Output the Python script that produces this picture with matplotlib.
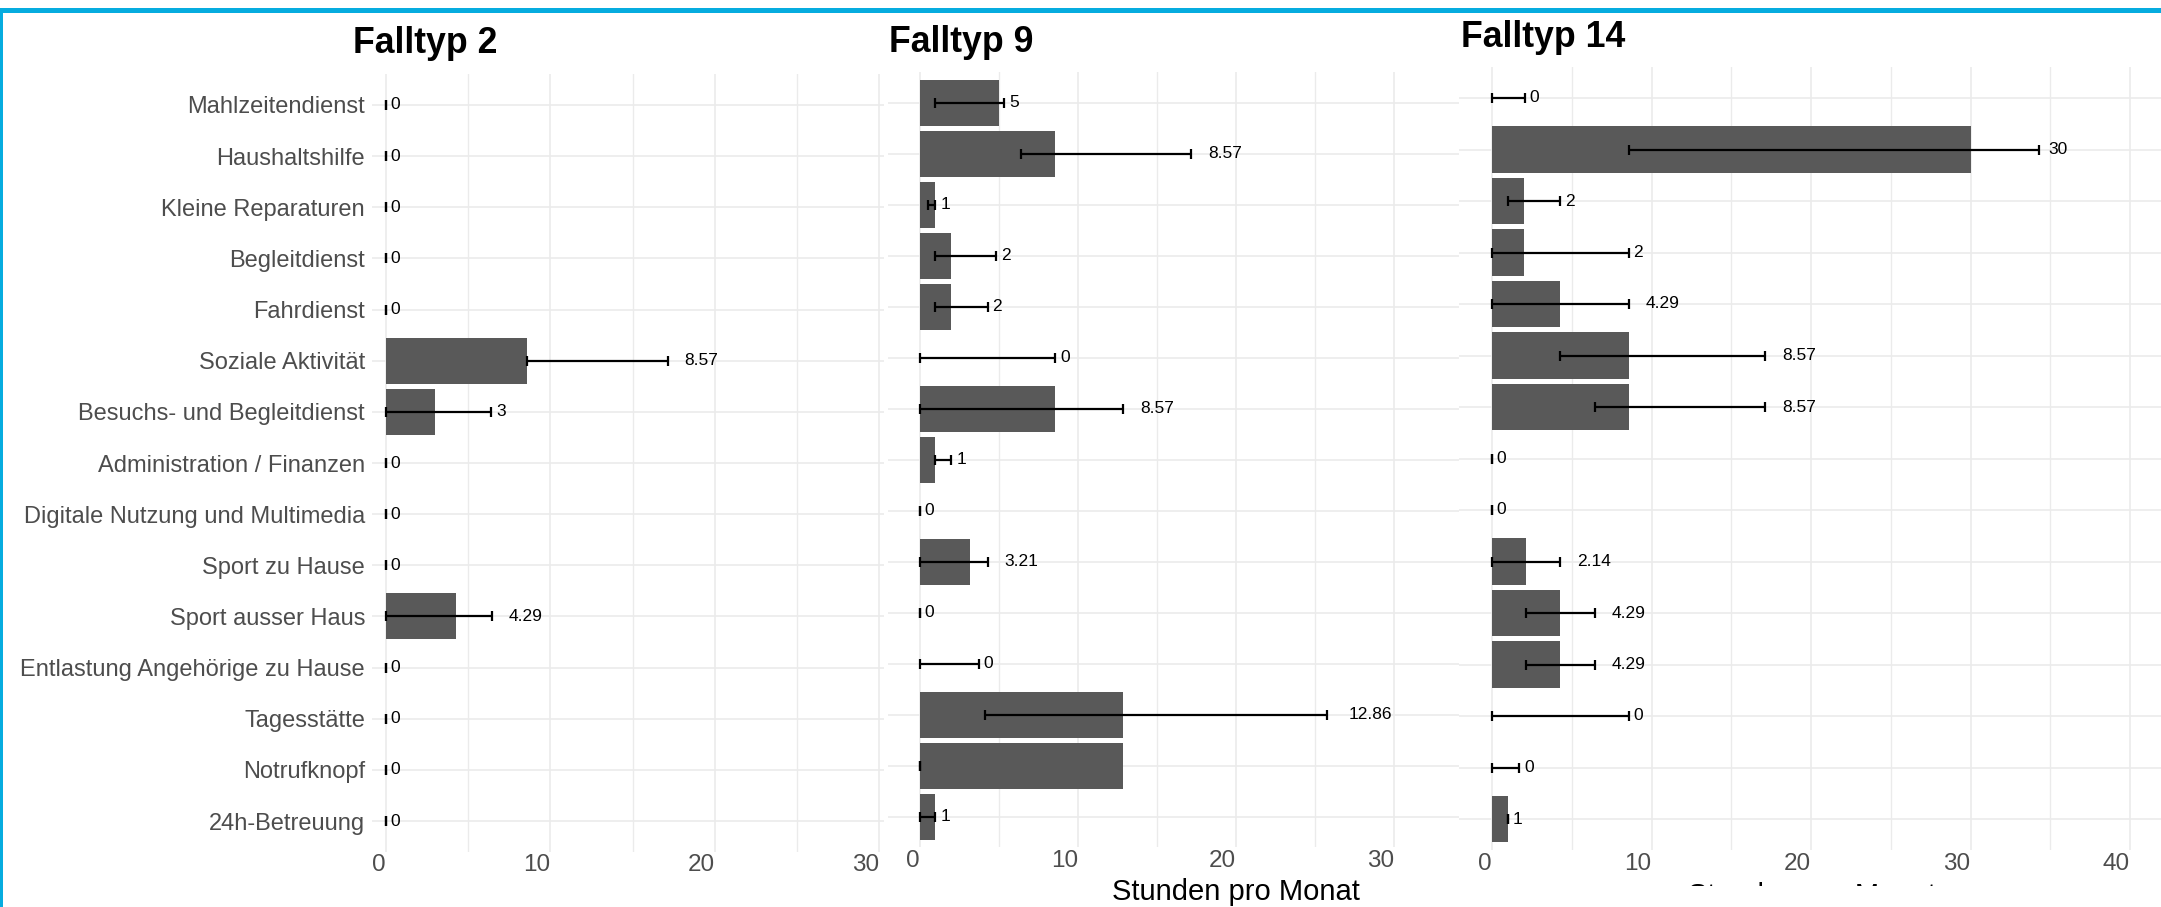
import matplotlib
matplotlib.use("Agg")
import matplotlib.pyplot as plt
from matplotlib.patches import Rectangle
import numpy as np

plt.rcParams['font.family'] = ['Liberation Sans', 'DejaVu Sans']

# Leistungen (von oben nach unten)
categories = ["Mahlzeitendienst", "Haushaltshilfe", "Kleine Reparaturen", "Begleitdienst",
              "Fahrdienst", "Soziale Aktivität", "Besuchs- und Begleitdienst",
              "Administration / Finanzen", "Digitale Nutzung und Multimedia",
              "Sport zu Hause", "Sport ausser Haus", "Entlastung Angehörige zu Hause",
              "Tagesstätte", "Notrufknopf", "24h-Betreuung"]

# Falltyp 2
ft2_val = [0, 0, 0, 0, 0, 8.57, 3, 0, 0, 0, 4.29, 0, 0, 0, 0]
ft2_lo = [0, 0, 0, 0, 0, 8.57, 0, 0, 0, 0, 0, 0, 0, 0, 0]
ft2_hi = [0, 0, 0, 0, 0, 17.14, 6.4, 0, 0, 0, 6.43, 0, 0, 0, 0]
ft2_lab = ["0", "0", "0", "0", "0", "8.57", "3", "0", "0", "0", "4.29", "0", "0", "0", "0"]

# Falltyp 9
ft9_val = [5, 8.57, 1, 2, 2, 0, 8.57, 1, 0, 3.21, 0, 0, 12.86, 12.86, 1]
ft9_lo = [1, 6.43, 0.5, 1, 1, 0, 0, 1, 0, 0, 0, 0, 4.1, 0, 0]
ft9_hi = [5.36, 17.14, 1, 4.82, 4.29, 8.57, 12.86, 2, 0, 4.29, 0, 3.75, 25.71, 0, 1]
ft9_lab = ["5", "8.57", "1", "2", "2", "0", "8.57", "1", "0", "3.21", "0", "0", "12.86", "", "1"]

# Falltyp 14
ft14_val = [0, 30, 2, 2, 4.29, 8.57, 8.57, 0, 0, 2.14, 4.29, 4.29, 0, 0, 1]
ft14_lo = [0, 8.57, 1, 0, 0, 4.29, 6.43, 0, 0, 0, 2.14, 2.14, 0, 0, 1]
ft14_hi = [2.05, 34.29, 4.29, 8.57, 8.57, 17.14, 17.14, 0, 0, 4.29, 6.43, 6.43, 8.57, 1.7, 1]
ft14_lab = ["0", "30", "2", "2", "4.29", "8.57", "8.57", "0", "0", "2.14", "4.29", "4.29", "0", "0", "1"]

W, H = 2161, 907
fig = plt.figure(figsize=(W / 100, H / 100), dpi=100)

def rect_px(l, r, t, b):
    return [l / W, 1 - b / H, (r - l) / W, (b - t) / H]

panels = [
    # title, values, lo, hi, labels, xlim, xticks, axes box (px), title pos (px)
    ("Falltyp 2", ft2_val, ft2_lo, ft2_hi, ft2_lab, (-0.85, 30.3), [0, 10, 20, 30],
     rect_px(372, 884, 74.3, 851.7), (353, 53)),
    ("Falltyp 9", ft9_val, ft9_lo, ft9_hi, ft9_lab, (-2.0, 34.05), [0, 10, 20, 30],
     rect_px(888, 1458.6, 72.1, 847.3), (889, 52)),
    ("Falltyp 14", ft14_val, ft14_lo, ft14_hi, ft14_lab, (-2.07, 41.94), [0, 10, 20, 30, 40],
     rect_px(1459, 2161, 67.1, 849.9), (1461, 47)),
]

grid_col = '#EBEBEB'
lab_fs = 12.5

for i, (title, val, lo, hi, lab, xlim, xticks, box, tpos) in enumerate(panels):
    ax = fig.add_axes(box)
    y = np.arange(len(categories))
    val = np.array(val)
    lo = np.array(lo)
    hi = np.array(hi)

    ax.barh(y, val, height=0.9, color='#595959', linewidth=0, zorder=2)
    ax.errorbar((lo + hi) / 2, y, xerr=(hi - lo) / 2, fmt='none', ecolor='black',
                elinewidth=1.6, capsize=3.3, capthick=1.6, zorder=3)

    # label sits right of the upper whisker (like hjust = -0.5)
    for yy, x, t in zip(y, hi, lab):
        if t == "":
            continue
        em = sum(0.556 if c.isdigit() else 0.278 for c in t)
        ax.annotate(t, (x, yy), xytext=(0.5 * lab_fs * em, 0), textcoords='offset points',
                    ha='left', va='center', fontsize=lab_fs, color='black', zorder=4)

    ax.set_xlim(*xlim)
    ax.set_ylim(len(categories) - 0.4, -0.6)
    ax.set_xticks(xticks)
    ax.set_xticks(np.arange(5, xticks[-1] + 5, 10), minor=True)
    ax.set_yticks(y)
    if i == 0:
        ax.set_yticklabels(categories, fontsize=17, color='#4D4D4D')
    else:
        ax.set_yticklabels([])
    ax.set_xticklabels([str(t) for t in xticks], fontsize=17.5, color='#4D4D4D')
    plt.setp(ax.get_xticklabels(), ha='right')
    ax.tick_params(axis='both', which='both', length=0)
    ax.tick_params(axis='x', pad=2)
    ax.tick_params(axis='y', pad=5)
    ax.grid(True, which='major', color=grid_col, linewidth=1.2, zorder=0)
    ax.grid(True, which='minor', axis='x', color=grid_col, linewidth=1.0, zorder=0)
    ax.set_axisbelow(True)
    for s in ax.spines.values():
        s.set_visible(False)
    ax.patch.set_alpha(0)

    fig.text(tpos[0] / W, 1 - tpos[1] / H, title, fontsize=25.7, fontweight='bold',
             ha='left', va='baseline')

# x-Achsentitel
fig.text(1236 / W, 1 - 900 / H, "Stunden pro Monat", fontsize=21, ha='center', va='baseline')
# zweiter Titel, fast ganz verdeckt
fig.text(1812 / W, 1 - 904 / H, "Stunden pro Monat", fontsize=21, ha='center', va='baseline')
fig.add_artist(Rectangle((1600 / W, 0), 420 / W, (907 - 885.5) / H, transform=fig.transFigure,
                         facecolor='white', edgecolor='none', zorder=10))

# blauer Rahmen
blue = '#06ACDF'
fig.add_artist(Rectangle((0, 1 - 13 / H), 1, 5 / H, transform=fig.transFigure,
                         facecolor=blue, edgecolor='none', zorder=11))
fig.add_artist(Rectangle((0, 0), 2.5 / W, (907 - 8) / H, transform=fig.transFigure,
                         facecolor=blue, edgecolor='none', zorder=11))

fig.savefig("out.png", dpi=100, facecolor='white')
